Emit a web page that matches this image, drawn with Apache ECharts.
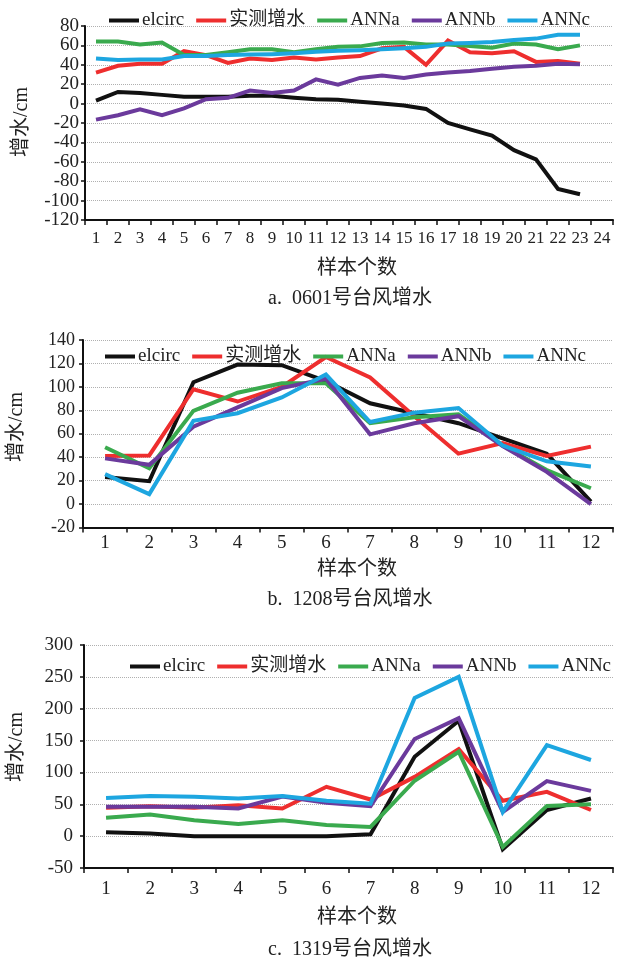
<!DOCTYPE html>
<html>
<head>
<meta charset="utf-8">
<script src="https://cdn.jsdelivr.net/npm/echarts@6/dist/echarts.min.js"></script>
<style>
html,body{margin:0;padding:0;background:#fff;}
#chart{width:625px;height:965px;}
</style>
</head>
<body>
<div id="chart"></div>
<script>
// ---------- data ----------
const seriesNames = ['elcirc', '实测增水', 'ANNa', 'ANNb', 'ANNc'];

// Panel a: 0601号台风
const categoriesA = ['1','2','3','4','5','6','7','8','9','10','11','12','13','14','15','16','17','18','19','20','21','22','23','24'];
const elcircA   = [3, 12, 11, 9, 7, 7, 7, 8, 8, 6, 4.5, 4, 2, 0, -2, -5.5, -20, -26.5, -33, -48, -57.5, -88, -93.5];
const measuredA = [32, 39, 41, 41, 54, 50, 42, 46.5, 45, 47.5, 45.5, 47.5, 49, 57, 58.5, 40, 65, 53, 52, 54, 43, 44, 41];
const annaA     = [64, 64, 61, 63, 50, 50, 53, 56, 56, 53, 56, 58.5, 59, 62.5, 63, 61, 61, 59.5, 57.5, 62, 61, 56, 60];
const annbA     = [-16.5, -12, -6, -12, -5, 4.5, 6, 13.5, 11, 13.5, 25, 19.5, 26.5, 29, 26.5, 30, 32, 33.5, 36, 38, 39, 41, 40.5];
const anncA     = [46.5, 45, 45.5, 45.5, 49, 49, 50, 50.5, 51, 52, 53.5, 54.5, 55, 56, 57, 58.5, 62, 62.5, 63.5, 65.5, 67, 71, 71];
const yTicksA = { min: -120, max: 80, interval: 20 };

// Panel b: 1208号台风
const categoriesB = ['1','2','3','4','5','6','7','8','9','10','11','12'];
const elcircB   = [23, 19.5, 104, 119, 118.5, 105, 86, 77.5, 69, 56, 43, 2];
const measuredB = [41, 41.5, 98, 87.5, 100, 125.5, 108, 75, 43, 52, 41, 49];
const annaB     = [48.5, 30.5, 79.5, 95, 103, 103, 69, 74, 76.5, 50, 29, 13.5];
const annbB     = [39, 33.5, 66, 82.5, 99, 107, 59.5, 69, 75, 49.5, 27.5, 0];
const anncB     = [25.5, 8.5, 71, 77.5, 91, 110.5, 70, 78, 82, 50, 36.5, 32];
const yTicksB = { min: -20, max: 140, interval: 20 };

// Panel c: 1319号台风
const categoriesC = ['1','2','3','4','5','6','7','8','9','10','11','12'];
const elcircC   = [6, 4, 0, 0, 0, 0, 3, 124.5, 181, -20.5, 41, 59];
const measuredC = [44.5, 47, 44.5, 48.5, 43.5, 77.5, 57.5, 93, 136.5, 55.5, 69.5, 41];
const annaC     = [29, 34, 25, 19, 25, 17.5, 14.5, 87, 132.5, -17, 47.5, 50];
const annbC     = [46, 46, 46, 43.5, 62, 52.5, 47, 152.5, 185, 38, 86.5, 71];
const anncC     = [60, 63, 62, 59, 63, 55.5, 51, 217, 250, 38, 143, 119.5];
const yTicksC = { min: -50, max: 300, interval: 50 };

const yAxisTitle = '增水/cm';
const xAxisTitle = '样本个数';
const captions = ['a.  0601号台风增水', 'b.  1208号台风增水', 'c.  1319号台风增水'];

// ---------- styling ----------
const colors = ['#111111', '#EE2E2E', '#3AAA4E', '#6B3A9C', '#1DA6E0'];
const SERIF = "'Liberation Serif','Times New Roman','Noto Sans CJK SC',serif";

const panels = [
  { cats: categoriesA, data: [elcircA, measuredA, annaA, annbA, anncA], yt: yTicksA,
    grid: { left: 85, top: 26, width: 528, height: 194 },
    yFont: 19, yMargin: 6, xFont: 17, xMargin: 10,
    legend: { left: 104, top: 6 }, yName: { x: 22, y: 122 },
    xName: 269, cap: 299 },
  { cats: categoriesB, data: [elcircB, measuredB, annaB, annbB, anncB], yt: yTicksB,
    grid: { left: 83, top: 340, width: 530, height: 187.5 },
    yFont: 18, yMargin: 8, xFont: 19, xMargin: 6,
    legend: { left: 100, top: 342 }, yName: { x: 17, y: 427 },
    xName: 570, cap: 600 },
  { cats: categoriesC, data: [elcircC, measuredC, annaC, annbC, anncC], yt: yTicksC,
    grid: { left: 84, top: 645, width: 529, height: 223 },
    yFont: 19, yMargin: 11, xFont: 19, xMargin: 12,
    legend: { left: 125, top: 652 }, yName: { x: 17, y: 747 },
    xName: 918, cap: 950 }
];

const option = {
  animation: false,
  backgroundColor: '#fff',
  grid: [], xAxis: [], yAxis: [], series: [], legend: [], graphic: []
};

panels.forEach((p, gi) => {
  option.grid.push(Object.assign({ containLabel: false, outerBoundsMode: 'none' }, p.grid));
  option.xAxis.push({
    type: 'category', gridIndex: gi, data: p.cats, boundaryGap: true,
    axisLine: { show: true, onZero: false, lineStyle: { color: '#111', width: 2 } },
    axisTick: { show: true, alignWithLabel: false, length: 5, lineStyle: { color: '#111', width: 1.5 } },
    axisLabel: { interval: 0, hideOverlap: false, fontFamily: SERIF, fontSize: p.xFont, color: '#222', margin: p.xMargin },
    splitLine: { show: false }
  });
  option.yAxis.push({
    type: 'value', gridIndex: gi, min: p.yt.min, max: p.yt.max, interval: p.yt.interval,
    axisLine: { show: true, lineStyle: { color: '#111', width: 2 } },
    axisTick: { show: true, length: 4, lineStyle: { color: '#111', width: 1.5 } },
    axisLabel: { showMinLabel: true, showMaxLabel: true, hideOverlap: false,
                 fontFamily: SERIF, fontSize: p.yFont, color: '#222', margin: p.yMargin },
    splitLine: { show: true, showMinLine: true, showMaxLine: true,
                 lineStyle: { color: '#b0b0b0', type: 'dotted', width: 1 } }
  });
  seriesNames.forEach((name, si) => {
    option.series.push({
      type: 'line', name: name, xAxisIndex: gi, yAxisIndex: gi,
      data: p.data[si], showSymbol: false, symbol: 'none',
      lineStyle: { color: colors[si], width: 4, join: 'miter' },
      itemStyle: { color: colors[si] },
      emphasis: { disabled: true }
    });
  });
  option.legend.push({
    data: seriesNames, left: p.legend.left, top: p.legend.top,
    orient: 'horizontal', icon: 'rect', itemWidth: 30, itemHeight: 4, itemGap: 12,
    textStyle: { fontFamily: SERIF, fontSize: 19, color: '#222', padding: [0, 0, 0, -2] },
    selectedMode: false
  });
  option.graphic.push({
    type: 'text', x: p.yName.x, y: p.yName.y, rotation: Math.PI / 2,
    style: { text: yAxisTitle, fontFamily: SERIF, fontSize: 20, fill: '#222',
             align: 'center', verticalAlign: 'middle' }
  });
  option.graphic.push({
    type: 'text', x: 357, y: p.xName,
    style: { text: xAxisTitle, fontFamily: SERIF, fontSize: 20, fill: '#222',
             align: 'center', verticalAlign: 'middle' }
  });
  option.graphic.push({
    type: 'text', x: 350, y: p.cap,
    style: { text: captions[gi], fontFamily: SERIF, fontSize: 20, fill: '#222',
             align: 'center', verticalAlign: 'middle' }
  });
});

const chart = echarts.init(document.getElementById('chart'), null, { renderer: 'canvas' });
chart.setOption(option);
</script>
</body>
</html>
